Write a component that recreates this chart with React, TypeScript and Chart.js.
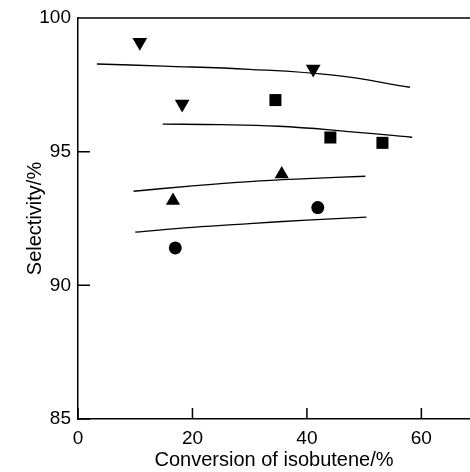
import React, { useEffect, useRef } from "react";
import { Chart, registerables } from "chart.js";

Chart.register(...registerables);

// ---- data ----
const xTickValues = [0, 20, 40, 60];
const yTickValues = [85, 90, 95, 100];

const downTriX = [10.8, 18.2, 41.1];
const downTriY = [99.09, 96.78, 98.09];

const squareX = [34.5, 44.1, 53.2];
const squareY = [96.93, 95.53, 95.33];

const upTriX = [16.6, 35.6];
const upTriY = [93.17, 94.16];

const circleX = [17.0, 41.9];
const circleY = [91.4, 92.91];

const curve1X = [3.3, 15, 30, 45, 58];
const curve1Y = [98.28, 98.2, 98.08, 97.85, 97.41];

const curve2X = [14.8, 25, 35, 45, 58.4];
const curve2Y = [96.03, 96.01, 95.95, 95.8, 95.54];

const curve3X = [9.7, 20, 30, 40, 50.2];
const curve3Y = [93.52, 93.72, 93.88, 93.99, 94.08];

const curve4X = [10, 20, 30, 40, 50.4];
const curve4Y = [91.99, 92.17, 92.31, 92.44, 92.55];

const xTitle = "Conversion of isobutene/%";
const yTitle = "Selectivity/%";

const FONT = "'Liberation Sans', Arial, Helvetica, sans-serif";

const pts = (xs: number[], ys: number[]) => xs.map((x, i) => ({ x, y: ys[i] }));

const framePlugin = {
  id: "frame",
  afterDraw(chart: any) {
    const { ctx, chartArea } = chart;
    const xs = chart.scales.x;
    const ys = chart.scales.y;
    ctx.save();
    ctx.strokeStyle = "#000";
    ctx.lineWidth = 1.5;
    ctx.beginPath();
    ctx.moveTo(chartArea.left, chartArea.top);
    ctx.lineTo(chart.width, chartArea.top);
    xs.ticks.forEach((t: any) => {
      const px = xs.getPixelForValue(t.value);
      ctx.moveTo(px, chartArea.bottom);
      ctx.lineTo(px, chartArea.bottom - 11);
    });
    ys.ticks.forEach((t: any) => {
      const py = ys.getPixelForValue(t.value);
      ctx.moveTo(chartArea.left, py);
      ctx.lineTo(chartArea.left + 12, py);
    });
    ctx.stroke();
    ctx.restore();
  },
};

export default function App() {
  const ref = useRef<HTMLCanvasElement | null>(null);

  useEffect(() => {
    if (!ref.current) return;
    const markerBase = {
      showLine: false,
      backgroundColor: "#000",
      borderColor: "#000",
      pointBackgroundColor: "#000",
      pointBorderColor: "#000",
      pointBorderWidth: 0,
    };
    const curveBase = {
      showLine: true,
      borderColor: "#000",
      borderWidth: 1.3,
      pointRadius: 0,
      tension: 0.4,
      fill: false,
    };
    const chart = new Chart(ref.current, {
      type: "scatter",
      data: {
        datasets: [
          { ...curveBase, data: pts(curve1X, curve1Y) },
          { ...curveBase, data: pts(curve2X, curve2Y) },
          { ...curveBase, data: pts(curve3X, curve3Y) },
          { ...curveBase, data: pts(curve4X, curve4Y) },
          { ...markerBase, data: pts(downTriX, downTriY), pointStyle: "triangle", pointRotation: 180, pointRadius: 8.5 },
          { ...markerBase, data: pts(squareX, squareY), pointStyle: "rect", pointRadius: 8.5 },
          { ...markerBase, data: pts(upTriX, upTriY), pointStyle: "triangle", pointRadius: 8.2 },
          { ...markerBase, data: pts(circleX, circleY), pointStyle: "circle", pointRadius: 6.5 },
        ] as any,
      },
      options: {
        animation: false,
        responsive: false,
        devicePixelRatio: 1,
        layout: { autoPadding: false, padding: { top: 18, right: 0, bottom: 0, left: 0 } },
        plugins: { legend: { display: false }, tooltip: { enabled: false } },
        scales: {
          x: {
            type: "linear",
            min: 0,
            max: 68.5,
            afterBuildTicks: (s: any) => {
              s.ticks = xTickValues.map((v) => ({ value: v }));
            },
            afterFit: (s: any) => {
              s.height = 53;
              s.paddingLeft = 0;
              s.paddingRight = 0;
            },
            grid: { display: false, drawTicks: false },
            border: { display: true, color: "#000", width: 1.5 },
            ticks: {
              color: "#000",
              font: { family: FONT, size: 19 },
              padding: 8,
              maxRotation: 0,
              autoSkip: false,
            },
            title: {
              display: true,
              text: xTitle,
              color: "#000",
              font: { family: FONT, size: 20 },
              padding: { top: 0, bottom: 0 },
            },
          },
          y: {
            type: "linear",
            min: 85,
            max: 100,
            afterBuildTicks: (s: any) => {
              s.ticks = yTickValues.map((v) => ({ value: v }));
            },
            afterFit: (s: any) => {
              s.width = 78;
              s.paddingTop = 0;
              s.paddingBottom = 0;
            },
            grid: { display: false, drawTicks: false },
            border: { display: true, color: "#000", width: 1.5 },
            ticks: {
              color: "#000",
              font: { family: FONT, size: 19 },
              padding: 7,
              autoSkip: false,
            },
            title: {
              display: true,
              text: yTitle,
              color: "#000",
              font: { family: FONT, size: 20 },
              padding: { top: 23, bottom: 0 },
            },
          },
        },
      },
      plugins: [framePlugin],
    });
    return () => chart.destroy();
  }, []);

  return (
    <div style={{ position: "fixed", left: 0, top: 0, width: 470, height: 472, background: "#fff" }}>
      <canvas ref={ref} width={470} height={472} style={{ display: "block", width: 470, height: 472 }} />
    </div>
  );
}
